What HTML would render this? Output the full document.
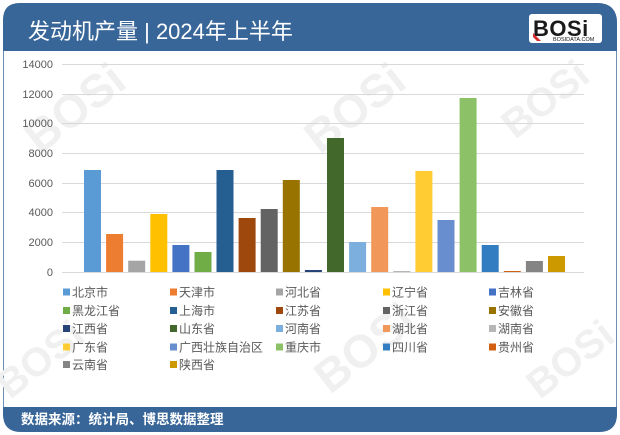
<!DOCTYPE html>
<html>
<head>
<meta charset="utf-8">
<style>
  html, body { margin: 0; padding: 0; background: #ffffff; }
  body { width: 620px; height: 435px; overflow: hidden; }
  svg { display: block; }
  .cjk { font-family: "Liberation Sans", "Noto Sans CJK SC", sans-serif; }
</style>
</head>
<body>
<svg width="620" height="435" viewBox="0 0 620 435" xmlns="http://www.w3.org/2000/svg">
  <!-- card -->
  <rect x="3.5" y="3.5" width="613" height="428" rx="18" ry="18" fill="#ffffff" stroke="#6f8fb3" stroke-width="1"/>

  <!-- watermarks (faint) -->
  <g font-family="Liberation Sans, sans-serif" font-weight="bold" fill="#f0f0f0">
    <text x="0" y="0" font-size="46" transform="translate(40,155) rotate(-38)">BOSi</text>
    <text x="0" y="0" font-size="46" transform="translate(320,155) rotate(-38)">BOSi</text>
    <text x="0" y="0" font-size="46" transform="translate(330,395) rotate(-38)">BOSi</text>
    <text x="0" y="0" font-size="40" transform="translate(10,400) rotate(-38)">BOSi</text>
    <text x="0" y="0" font-size="40" transform="translate(540,400) rotate(-38)">BOSi</text>
    <text x="0" y="0" font-size="40" transform="translate(515,140) rotate(-38)">BOSi</text>
  </g>

  <!-- header -->
  <path d="M3,51 L3,20 Q3,3 20,3 L597,3 Q617,3 617,23 L617,51 Z" fill="#386699"/>
  <!-- footer -->
  <path d="M3,407 L617,407 L617,414 Q617,432 599,432 L21,432 Q3,432 3,414 Z" fill="#386699"/>

  <!-- title -->
  <text x="28" y="39" class="cjk" font-size="22" fill="#ffffff">发动机产量 | 2024年上半年</text>

  <!-- logo -->
  <rect x="529" y="14" width="73" height="29" rx="3" fill="#ffffff"/>
  <text x="533" y="36" font-family="Liberation Sans, sans-serif" font-weight="bold" font-size="22" fill="#1a1a1a" letter-spacing="0.5">BOSi</text>
  <path d="M533,33 L541,41 L537,41 L533,37 Z" fill="#d42b2b"/>
  <text x="553" y="41" font-family="Liberation Sans, sans-serif" font-size="5.5" fill="#1a1a1a">BOSIDATA.COM</text>

  <!-- gridlines -->
  <g stroke="#d9d9d9" stroke-width="1">
    <line x1="62" y1="64.5" x2="584" y2="64.5"/>
    <line x1="62" y1="94.5" x2="584" y2="94.5"/>
    <line x1="62" y1="123.5" x2="584" y2="123.5"/>
    <line x1="62" y1="153.5" x2="584" y2="153.5"/>
    <line x1="62" y1="183.5" x2="584" y2="183.5"/>
    <line x1="62" y1="212.5" x2="584" y2="212.5"/>
    <line x1="62" y1="242.5" x2="584" y2="242.5"/>
    <line x1="62" y1="272.5" x2="584" y2="272.5"/>
  </g>

  <!-- y labels -->
  <g font-family="Liberation Sans, sans-serif" font-size="11" fill="#595959" text-anchor="end">
    <text x="53" y="68">14000</text>
    <text x="53" y="98">12000</text>
    <text x="53" y="127">10000</text>
    <text x="53" y="157">8000</text>
    <text x="53" y="187">6000</text>
    <text x="53" y="216">4000</text>
    <text x="53" y="246">2000</text>
    <text x="53" y="276">0</text>
  </g>

  <!-- bars -->
  <g>
    <rect x="84.0"  y="170" width="17" height="102" fill="#5B9BD5"/>
    <rect x="106.1" y="234" width="17" height="38"  fill="#ED7D31"/>
    <rect x="128.2" y="260.7" width="17" height="11.3" fill="#A5A5A5"/>
    <rect x="150.3" y="214" width="17" height="58"  fill="#FFC000"/>
    <rect x="172.4" y="245" width="17" height="27"  fill="#4472C4"/>
    <rect x="194.5" y="252" width="17" height="20"  fill="#70AD47"/>
    <rect x="216.5" y="170" width="17" height="102" fill="#255E91"/>
    <rect x="238.6" y="218" width="17" height="54"  fill="#9E480E"/>
    <rect x="260.7" y="209" width="17" height="63"  fill="#636363"/>
    <rect x="282.8" y="180" width="17" height="92"  fill="#997300"/>
    <rect x="304.9" y="270" width="17" height="2"   fill="#264478"/>
    <rect x="327.0" y="138" width="17" height="134" fill="#43682B"/>
    <rect x="349.1" y="242" width="17" height="30"  fill="#7CAFDD"/>
    <rect x="371.2" y="207" width="17" height="65"  fill="#F1975A"/>
    <rect x="393.3" y="271" width="17" height="1"   fill="#B7B7B7"/>
    <rect x="415.4" y="171" width="17" height="101" fill="#FFCD33"/>
    <rect x="437.5" y="220" width="17" height="52"  fill="#698ED0"/>
    <rect x="459.6" y="98"  width="17" height="174" fill="#8CC168"/>
    <rect x="481.7" y="245" width="17" height="27"  fill="#327DC2"/>
    <rect x="503.8" y="271" width="17" height="1"   fill="#D26012"/>
    <rect x="525.9" y="261" width="17" height="11"  fill="#848484"/>
    <rect x="548.0" y="256" width="17" height="16"  fill="#CC9A00"/>
  </g>

  <!-- legend -->
  <g class="cjk" font-size="12" fill="#595959">
    <rect x="63" y="288.5" width="7" height="7" fill="#5B9BD5"/><text x="72" y="296.5">北京市</text>
    <rect x="170" y="288.5" width="7" height="7" fill="#ED7D31"/><text x="179" y="296.5">天津市</text>
    <rect x="276" y="288.5" width="7" height="7" fill="#A5A5A5"/><text x="285" y="296.5">河北省</text>
    <rect x="383" y="288.5" width="7" height="7" fill="#FFC000"/><text x="392" y="296.5">辽宁省</text>
    <rect x="489" y="288.5" width="7" height="7" fill="#4472C4"/><text x="498" y="296.5">吉林省</text>

    <rect x="63" y="307" width="7" height="7" fill="#70AD47"/><text x="72" y="315">黑龙江省</text>
    <rect x="170" y="307" width="7" height="7" fill="#255E91"/><text x="179" y="315">上海市</text>
    <rect x="276" y="307" width="7" height="7" fill="#9E480E"/><text x="285" y="315">江苏省</text>
    <rect x="383" y="307" width="7" height="7" fill="#636363"/><text x="392" y="315">浙江省</text>
    <rect x="489" y="307" width="7" height="7" fill="#997300"/><text x="498" y="315">安徽省</text>

    <rect x="63" y="325" width="7" height="7" fill="#264478"/><text x="72" y="333">江西省</text>
    <rect x="170" y="325" width="7" height="7" fill="#43682B"/><text x="179" y="333">山东省</text>
    <rect x="276" y="325" width="7" height="7" fill="#7CAFDD"/><text x="285" y="333">河南省</text>
    <rect x="383" y="325" width="7" height="7" fill="#F1975A"/><text x="392" y="333">湖北省</text>
    <rect x="489" y="325" width="7" height="7" fill="#B7B7B7"/><text x="498" y="333">湖南省</text>

    <rect x="63" y="343.5" width="7" height="7" fill="#FFCD33"/><text x="72" y="351.5">广东省</text>
    <rect x="170" y="343.5" width="7" height="7" fill="#698ED0"/><text x="179" y="351.5">广西壮族自治区</text>
    <rect x="276" y="343.5" width="7" height="7" fill="#8CC168"/><text x="285" y="351.5">重庆市</text>
    <rect x="383" y="343.5" width="7" height="7" fill="#327DC2"/><text x="392" y="351.5">四川省</text>
    <rect x="489" y="343.5" width="7" height="7" fill="#D26012"/><text x="498" y="351.5">贵州省</text>

    <rect x="63" y="361" width="7" height="7" fill="#848484"/><text x="72" y="369">云南省</text>
    <rect x="170" y="361" width="7" height="7" fill="#CC9A00"/><text x="179" y="369">陕西省</text>
  </g>

  <!-- footer text -->
  <text x="21" y="424" class="cjk" font-size="13.5" font-weight="bold" fill="#ffffff">数据来源：统计局、博思数据整理</text>
</svg>
</body>
</html>
